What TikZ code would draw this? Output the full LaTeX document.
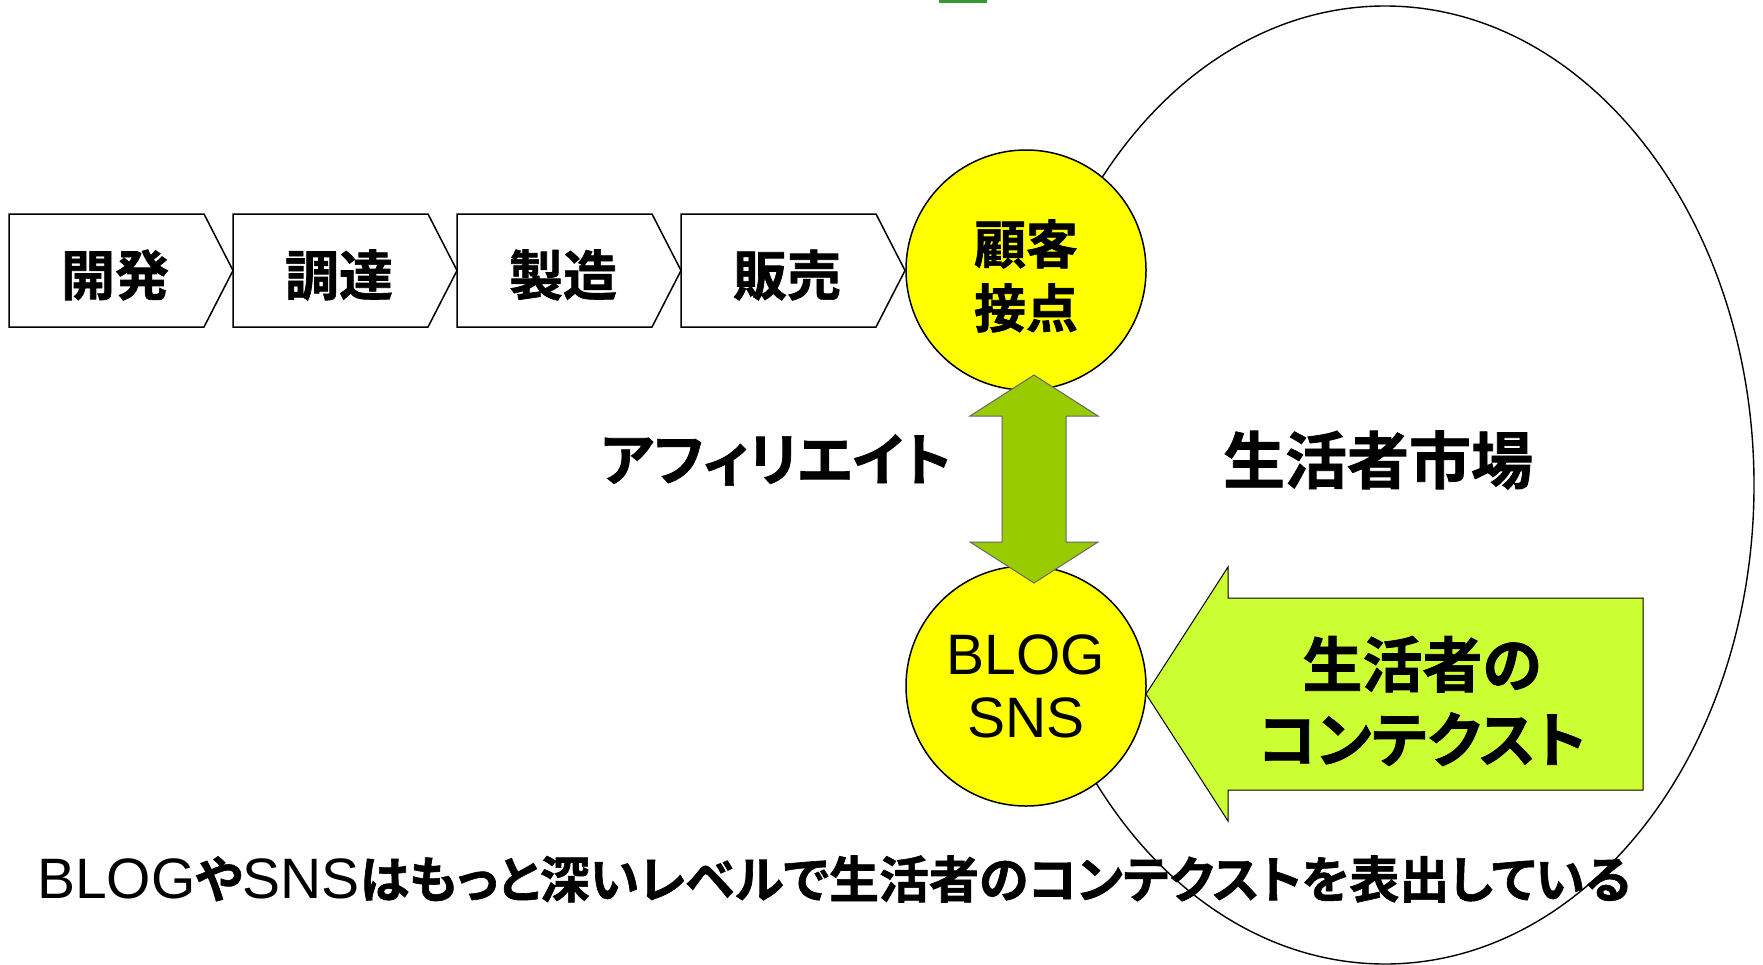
\documentclass[tikz,border=0pt]{standalone}
\usepackage{fontspec}
\usepackage{graphicx}
\setmainfont{Liberation Sans}
\newfontfamily\jp{Noto Sans CJK JP Bold}[RawFeature=+palt,FakeBold=1.2]
\definecolor{yel}{HTML}{FFFF00}
\definecolor{olivegr}{HTML}{99CC00}
\definecolor{limegr}{HTML}{CCFF33}
\definecolor{topgr}{HTML}{339933}
\begin{document}
\begin{tikzpicture}[x=1pt,y=-1pt,line join=miter,
  chev/.style={draw=black,line width=1.5pt,fill=white},
  chevlbl/.style={inner sep=0pt,font=\jp\fontsize{54}{60}\selectfont},
  circ/.style={circle,draw=black,line width=1.5pt,fill=yel,minimum size=240pt,inner sep=0pt,align=center},
  bigtxt/.style={inner sep=0pt,align=center,font=\jp\fontsize{60}{75}\selectfont}]
\useasboundingbox (0,0) rectangle (1763,964);
\fill[topgr] (939,0) rectangle (987,2.5);
% market ellipse
\draw[line width=1.4pt] (1385,485) ellipse [x radius=369, y radius=479];
% value chain
\foreach \i in {0,1,2,3}{
  \draw[chev] ({9+224*\i},214) -- ++(195,0) -- ++(29,56.5) -- ++(-29,56.5) -- ++(-195,0) -- cycle;
}
\node[chevlbl] (dev) at (115,275) {開発};
\node[chevlbl] (buy) at (339,275) {調達};
\node[chevlbl] (mfg) at (563,275) {製造};
\node[chevlbl] (sell) at (787,275) {販売};
% circles
\node[circ] (cust) at (1026,270) {};
\node[inner sep=0pt,align=center,font=\jp\fontsize{52}{64}\selectfont] (custlbl) at (1026,276) {顧客\\接点};
\node[circ,font=\fontsize{57}{63}\selectfont] (blog) at (1026,686) {BLOG\\SNS};
% double arrow
\draw[fill=olivegr,draw=black!60,line width=1pt]
  (1034,375) -- (1098,416) -- (1066,416) -- (1066,542) -- (1098,542) -- (1034,583)
  -- (970,542) -- (1002,542) -- (1002,416) -- (970,416) -- cycle;
% context arrow
\draw[fill=limegr,draw=black,line width=1pt]
  (1146,694) -- (1228,567) -- (1228,598) -- (1643,598) -- (1643,790) -- (1228,790) -- (1228,821) -- cycle;
\node[bigtxt] (ctx) at (1422,701) {生活者の\\コンテクスト};
% labels
\node[bigtxt,font=\jp\fontsize{57}{70}\selectfont] (aff) at (776,460) {アフィリエイト};
\node[bigtxt,font=\jp\fontsize{62}{70}\selectfont] (mkt) at (1378,460) {生活者市場};
\node[inner sep=0pt] (note) at (834,879) {\fontsize{57}{63}\selectfont BLOG{\jp\fontsize{50}{60}\selectfont や}SNS{\jp\fontsize{50}{60}\selectfont はもっと深いレベルで生活者のコンテクストを表出している}};
\end{tikzpicture}
\end{document}
